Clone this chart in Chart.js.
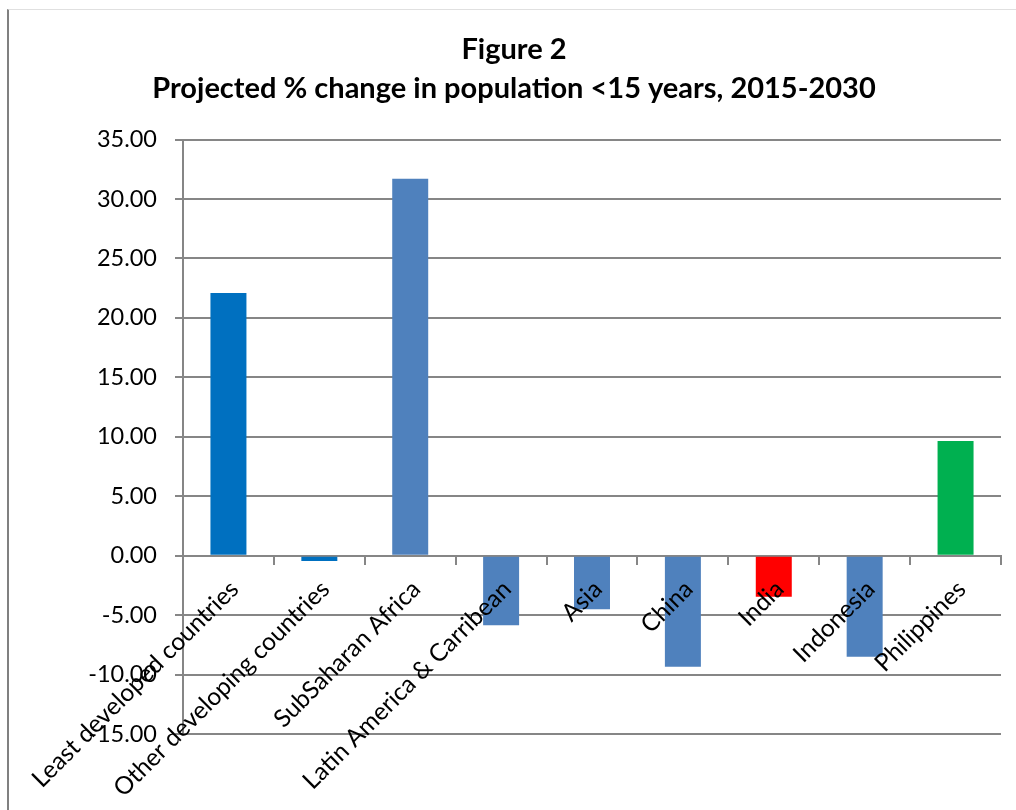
<!DOCTYPE html>
<html>
<head>
<meta charset="utf-8">
<script src="https://cdn.jsdelivr.net/npm/chart.js@4.4.0/dist/chart.umd.min.js"></script>
<style>
  html, body { margin: 0; padding: 0; background: #ffffff; overflow: hidden; }
  #frame { position: absolute; left: 7px; top: 9px; width: 1009px; height: 801px;
           border-left: 2px solid #808080; border-top: 1px solid #e0e0e0; box-sizing: border-box; }
  #wrap { position: absolute; left: 0; top: 0; width: 1016px; height: 810px; }
</style>
</head>
<body>
<div id="frame"></div>
<div id="wrap"><canvas id="c"></canvas></div>
<script>
const categories = [
  'Least developed countries',
  'Other developing countries',
  'SubSaharan Africa',
  'Latin America & Carribean',
  'Asia',
  'China',
  'India',
  'Indonesia',
  'Philippines'
];
const pctChange = [22.1, -0.45, 31.7, -5.85, -4.5, -9.35, -3.45, -8.5, 9.65];
const barColors = ['#0070C0', '#0070C0', '#4F81BD', '#4F81BD', '#4F81BD', '#4F81BD', '#FF0000', '#4F81BD', '#00B050'];
const titleLines = ['Figure 2', 'Projected % change in population <15 years, 2015-2030'];
const yMin = -15, yMax = 35, yStep = 5;

const GRID = '#868686';
const FONT = 'Lato';

new Chart(document.getElementById('c'), {
  type: 'bar',
  data: {
    labels: categories,
    datasets: [{
      data: pctChange,
      backgroundColor: barColors,
      borderWidth: 0,
      categoryPercentage: 1,
      barPercentage: 0.396
    }]
  },
  options: {
    responsive: true,
    maintainAspectRatio: false,
    animation: false,
    layout: { padding: { left: 27, right: 15, top: 0, bottom: 76 } },
    plugins: {
      legend: { display: false },
      tooltip: { enabled: false },
      title: {
        display: true,
        text: titleLines,
        color: '#000000',
        font: { family: FONT, size: 29, weight: 'bold', lineHeight: 1.32 },
        padding: { top: 31, bottom: 32 }
      }
    },
    scales: {
      x: {
        position: { y: 0 },
        grid: {
          display: true,
          drawOnChartArea: false,
          drawTicks: true,
          tickLength: 8,
          tickWidth: 2,
          tickColor: GRID,
          color: GRID,
          lineWidth: 2
        },
        border: { display: true, color: GRID, width: 2 },
        ticks: {
          z: 1,
          color: '#000000',
          font: { family: FONT, size: 24.5 },
          minRotation: 45,
          maxRotation: 45,
          autoSkip: false,
          padding: 11,
          labelOffset: 6
        },
        afterFit: (s) => { s.paddingLeft = 0; s.paddingRight = 0; }
      },
      y: {
        min: yMin,
        max: yMax,
        grid: {
          color: GRID,
          lineWidth: 2,
          tickLength: 8,
          drawTicks: true
        },
        border: { display: true, color: GRID, width: 2 },
        ticks: {
          stepSize: yStep,
          color: '#000000',
          font: { family: FONT, size: 23.5 },
          padding: 18,
          callback: (v) => Number(v).toFixed(2)
        },
        afterFit: (s) => { s.width = 156; }
      }
    }
  }
});
</script>
</body>
</html>
